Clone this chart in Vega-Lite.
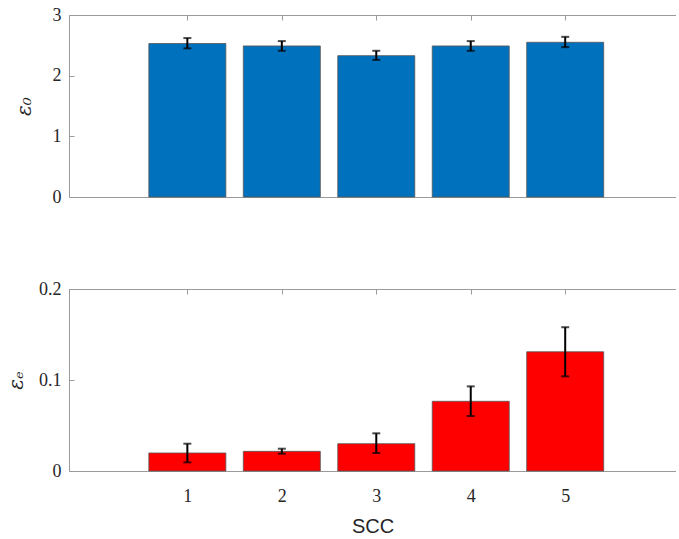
{
  "$schema": "https://vega.github.io/schema/vega-lite/v6.json",
  "padding": {"left": 6, "top": 6, "right": 0, "bottom": 0},
  "spacing": 92,
  "bounds": "flush",
  "config": {
    "view": {"stroke": null},
    "axis": {
      "grid": false,
      "domainColor": "#9a9a9a",
      "tickColor": "#9a9a9a",
      "labelColor": "#262626",
      "labelFont": "Liberation Serif",
      "labelFontSize": 18,
      "titleColor": "#262626"
    }
  },
  "datasets": {
    "e0": [
      {"SCC": 1, "value": 2.53, "lo": 2.45, "hi": 2.62},
      {"SCC": 2, "value": 2.49, "lo": 2.41, "hi": 2.57},
      {"SCC": 3, "value": 2.33, "lo": 2.26, "hi": 2.41},
      {"SCC": 4, "value": 2.49, "lo": 2.41, "hi": 2.57},
      {"SCC": 5, "value": 2.55, "lo": 2.47, "hi": 2.64}
    ],
    "ee": [
      {"SCC": 1, "value": 0.0198, "lo": 0.0095, "hi": 0.030},
      {"SCC": 2, "value": 0.0216, "lo": 0.019, "hi": 0.0245},
      {"SCC": 3, "value": 0.030, "lo": 0.0198, "hi": 0.0414},
      {"SCC": 4, "value": 0.0766, "lo": 0.0604, "hi": 0.093},
      {"SCC": 5, "value": 0.131, "lo": 0.104, "hi": 0.158}
    ]
  },
  "vconcat": [
    {
      "width": 607,
      "height": 182,
      "data": {"name": "e0"},
      "resolve": {"axis": {"x": "independent"}},
      "layer": [
        {
          "mark": {"type": "bar", "width": 77, "color": "#0072BD", "stroke": "#555555", "strokeWidth": 0.8},
          "encoding": {
            "x": {"field": "SCC", "type": "quantitative",
                  "scale": {"domain": [-0.2, 6.12], "nice": false, "zero": false},
                  "axis": {"orient": "bottom", "values": [1, 2, 3, 4, 5], "labels": false, "tickSize": -5, "title": null}},
            "y": {"field": "value", "type": "quantitative",
                  "scale": {"domain": [0, 3], "nice": false},
                  "axis": {"values": [0, 1, 2, 3], "tickSize": -5, "labelPadding": 13, "format": "~g",
                           "title": "ε₀", "titleFont": "DejaVu Serif", "titleFontStyle": "italic",
                           "titleFontWeight": "normal", "titleFontSize": 20, "titlePadding": 18}}
          }
        },
        {
          "mark": {"type": "rule", "color": "black", "strokeWidth": 2},
          "encoding": {
            "x": {"field": "SCC", "type": "quantitative",
                  "axis": {"orient": "top", "values": [1, 2, 3, 4, 5], "labels": false, "tickSize": -5, "title": null}},
            "y": {"field": "lo", "type": "quantitative",
                  "axis": {"values": [0, 1, 2, 3], "tickSize": -5, "labelPadding": 13, "format": "~g",
                           "title": "ε₀", "titleFont": "DejaVu Serif", "titleFontStyle": "italic",
                           "titleFontWeight": "normal", "titleFontSize": 20, "titlePadding": 18}},
            "y2": {"field": "hi"}
          }
        },
        {
          "mark": {"type": "tick", "orient": "horizontal", "color": "black", "size": 8, "thickness": 2},
          "encoding": {
            "x": {"field": "SCC", "type": "quantitative", "axis": null},
            "y": {"field": "lo", "type": "quantitative",
                  "axis": {"values": [0, 1, 2, 3], "tickSize": -5, "labelPadding": 13, "format": "~g",
                           "title": "ε₀", "titleFont": "DejaVu Serif", "titleFontStyle": "italic",
                           "titleFontWeight": "normal", "titleFontSize": 20, "titlePadding": 18}}
          }
        },
        {
          "mark": {"type": "tick", "orient": "horizontal", "color": "black", "size": 8, "thickness": 2},
          "encoding": {
            "x": {"field": "SCC", "type": "quantitative", "axis": null},
            "y": {"field": "hi", "type": "quantitative",
                  "axis": {"values": [0, 1, 2, 3], "tickSize": -5, "labelPadding": 13, "format": "~g",
                           "title": "ε₀", "titleFont": "DejaVu Serif", "titleFontStyle": "italic",
                           "titleFontWeight": "normal", "titleFontSize": 20, "titlePadding": 18}}
          }
        }
      ]
    },
    {
      "width": 607,
      "height": 182,
      "data": {"name": "ee"},
      "resolve": {"axis": {"x": "independent"}},
      "layer": [
        {
          "mark": {"type": "bar", "width": 77, "color": "#FF0000", "stroke": "#555555", "strokeWidth": 0.8},
          "encoding": {
            "x": {"field": "SCC", "type": "quantitative",
                  "scale": {"domain": [-0.2, 6.12], "nice": false, "zero": false},
                  "axis": {"orient": "bottom", "values": [1, 2, 3, 4, 5], "tickSize": -5, "labelPadding": 21,
                           "title": "SCC", "titleFont": "Liberation Sans", "titleFontWeight": "normal",
                           "titleFontSize": 20, "titlePadding": 11}},
            "y": {"field": "value", "type": "quantitative",
                  "scale": {"domain": [0, 0.2], "nice": false},
                  "axis": {"values": [0, 0.1, 0.2], "tickSize": -5, "labelPadding": 13, "format": "~g",
                           "title": "εₑ", "titleFont": "DejaVu Serif", "titleFontStyle": "italic",
                           "titleFontWeight": "normal", "titleFontSize": 20, "titlePadding": 12}}
          }
        },
        {
          "mark": {"type": "rule", "color": "black", "strokeWidth": 2},
          "encoding": {
            "x": {"field": "SCC", "type": "quantitative",
                  "axis": {"orient": "top", "values": [1, 2, 3, 4, 5], "labels": false, "tickSize": -5, "title": null}},
            "y": {"field": "lo", "type": "quantitative",
                  "axis": {"values": [0, 0.1, 0.2], "tickSize": -5, "labelPadding": 13, "format": "~g",
                           "title": "εₑ", "titleFont": "DejaVu Serif", "titleFontStyle": "italic",
                           "titleFontWeight": "normal", "titleFontSize": 20, "titlePadding": 12}},
            "y2": {"field": "hi"}
          }
        },
        {
          "mark": {"type": "tick", "orient": "horizontal", "color": "black", "size": 8, "thickness": 2},
          "encoding": {
            "x": {"field": "SCC", "type": "quantitative", "axis": null},
            "y": {"field": "lo", "type": "quantitative",
                  "axis": {"values": [0, 0.1, 0.2], "tickSize": -5, "labelPadding": 13, "format": "~g",
                           "title": "εₑ", "titleFont": "DejaVu Serif", "titleFontStyle": "italic",
                           "titleFontWeight": "normal", "titleFontSize": 20, "titlePadding": 12}}
          }
        },
        {
          "mark": {"type": "tick", "orient": "horizontal", "color": "black", "size": 8, "thickness": 2},
          "encoding": {
            "x": {"field": "SCC", "type": "quantitative", "axis": null},
            "y": {"field": "hi", "type": "quantitative",
                  "axis": {"values": [0, 0.1, 0.2], "tickSize": -5, "labelPadding": 13, "format": "~g",
                           "title": "εₑ", "titleFont": "DejaVu Serif", "titleFontStyle": "italic",
                           "titleFontWeight": "normal", "titleFontSize": 20, "titlePadding": 12}}
          }
        }
      ]
    }
  ]
}
